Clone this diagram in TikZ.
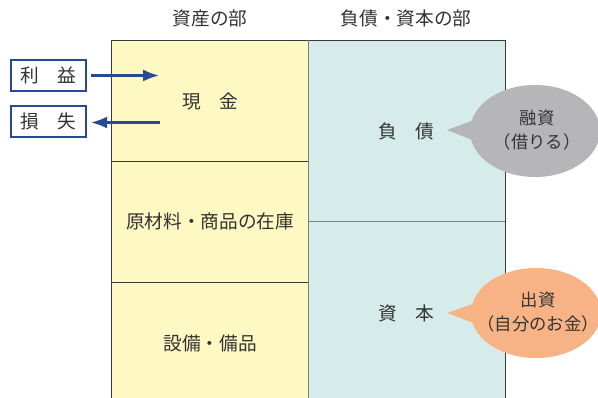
\documentclass[tikz,border=0pt]{standalone}
\usepackage{fontspec}
\setmainfont{Noto Sans CJK JP}
\usetikzlibrary{arrows.meta}
\definecolor{txt}{HTML}{333333}
\definecolor{yel}{HTML}{FEF8C2}
\definecolor{cya}{HTML}{D6ECEA}
\definecolor{bord}{HTML}{3A3A3A}
\definecolor{blu}{HTML}{2A4896}
\definecolor{gry}{HTML}{B6B6B8}
\definecolor{ora}{HTML}{F7B386}
\begin{document}
\begin{tikzpicture}[x=0.75pt,y=-0.75pt,
  lbl/.style={text=txt,font=\fontsize{14}{18}\selectfont,inner sep=0pt,align=center},
  blbl/.style={text=txt,font=\fontsize{13}{18}\selectfont,inner sep=0pt,align=center},
  bluebox/.style={draw=blu,line width=1.6pt,fill=white,minimum width=56.25pt,minimum height=23.25pt,inner sep=0pt,text=txt,font=\fontsize{14}{16}\selectfont},
  arr/.style={draw=blu,line width=1.6pt,-{Latex[length=12pt,width=9pt]}},
  sep/.style={draw=bord,line width=0.6pt}]
\useasboundingbox (0,0) rectangle (598,398);
% columns
\fill[yel] (111,40) rectangle (308,398);
\fill[cya] (308,40) rectangle (505,398);
\draw[sep] (111,398) -- (111,40) -- (505,40) -- (505,398);
\draw[sep,draw=gray] (308,40) -- (308,398);
\draw[sep] (111,161) -- (308,161);
\draw[sep] (111,282) -- (308,282);
\draw[sep,draw=gray] (308,221) -- (505,221);
% headers
\node[lbl] (h1) at (210,18) {資産の部};
\node[lbl] (h2) at (406,18) {負債・資本の部};
% cells
\node[lbl] (cash) at (210,101) {現　金};
\node[lbl] (inv) at (210,221) {原材料・商品の在庫};
\node[lbl] (eq) at (210,343) {設備・備品};
\node[lbl] (debt) at (406,131) {負　債};
\node[lbl] (cap) at (406,313) {資　本};
% boxes
\node[bluebox] (profit) at (48.5,75.5) {利　益};
\node[bluebox] (loss) at (48.5,121.5) {損　失};
\coordinate (pend) at (159,75.5);
\coordinate (lstart) at (160,122.5);
\draw[arr] ([xshift=3pt]profit.east) -- (pend);
\draw[arr] (lstart) -- ([xshift=3pt,yshift=-0.75pt]loss.east);
% bubbles
\fill[gry] (535,131) ellipse [x radius=65, y radius=46];
\fill[gry] (447,130) -- (485,116) -- (485,145) -- cycle;
\node[blbl] (b1) at (537,130) {融資\\（借りる）};
\fill[ora] (536,313) ellipse [x radius=65, y radius=45];
\fill[ora] (447,313) -- (487,299) -- (487,328) -- cycle;
\node[blbl] (b2) at (538,312) {出資\\（自分のお金）};
\end{tikzpicture}
\end{document}
